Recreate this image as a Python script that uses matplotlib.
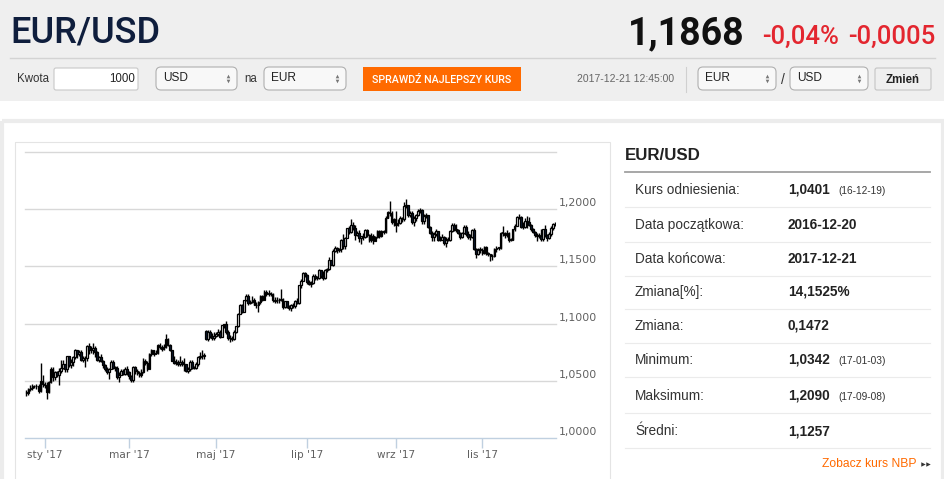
import numpy as np
import pandas as pd
import matplotlib
matplotlib.use('Agg')
from matplotlib import pyplot as plt
from matplotlib.patches import Rectangle, FancyBboxPatch
from matplotlib.transforms import offset_copy

plt.rcParams['font.family'] = ['Liberation Sans', 'DejaVu Sans']

# EUR/USD daily candles, 2016-12-20 .. 2017-12-21 (business days)
first_open = 1.0400
closes = [
    1.0392, 1.0425, 1.0437, 1.0452, 1.0455, 1.0452, 1.0410, 1.0495, 1.0470, 1.0460,
    1.0405, 1.0490, 1.0605, 1.0530, 1.0575, 1.0555, 1.0585, 1.0615, 1.0645, 1.0605,
    1.0715, 1.0635, 1.0660, 1.0705, 1.0765, 1.0735, 1.0750, 1.0680, 1.0695, 1.0695,
    1.0800, 1.0765, 1.0765, 1.0785, 1.0750, 1.0685, 1.0705, 1.0670, 1.0640, 1.0605,
    1.0575, 1.0605, 1.0665, 1.0615, 1.0615, 1.0535, 1.0555, 1.0585, 1.0560, 1.0605,
    1.0575, 1.0545, 1.0505, 1.0620, 1.0585, 1.0565, 1.0550, 1.0580, 1.0675, 1.0655,
    1.0605, 1.0735, 1.0765, 1.0735, 1.0745, 1.0810, 1.0795, 1.0780, 1.0795, 1.0865,
    1.0815, 1.0765, 1.0675, 1.0655, 1.0665, 1.0645, 1.0665, 1.0645, 1.0645, 1.0590,
    1.0605, 1.0665, 1.0615, 1.0615, 1.0645, 1.0705, 1.0715, 1.0715, 1.0725, 1.0865,
    1.0930, 1.0895, 1.0870, 1.0895, 1.0905, 1.0925, 1.0885, 1.0985, 1.0995, 1.0925,
    1.0875, 1.0870, 1.0865, 1.0930, 1.0975, 1.1085, 1.1165, 1.1105, 1.1205, 1.1245,
    1.1180, 1.1190, 1.1210, 1.1165, 1.1160, 1.1185, 1.1240, 1.1210, 1.1280, 1.1255,
    1.1270, 1.1255, 1.1210, 1.1195, 1.1205, 1.1210, 1.1215, 1.1145, 1.1195, 1.1145,
    1.1135, 1.1165, 1.1150, 1.1195, 1.1180, 1.1335, 1.1375, 1.1440, 1.1425, 1.1360,
    1.1350, 1.1355, 1.1420, 1.1400, 1.1400, 1.1465, 1.1415, 1.1395, 1.1470, 1.1475,
    1.1555, 1.1515, 1.1635, 1.1660, 1.1640, 1.1650, 1.1735, 1.1675, 1.1750, 1.1835,
    1.1800, 1.1860, 1.1835, 1.1775, 1.1790, 1.1750, 1.1765, 1.1760, 1.1820, 1.1775,
    1.1735, 1.1770, 1.1725, 1.1760, 1.1810, 1.1765, 1.1810, 1.1800, 1.1925, 1.1975,
    1.1970, 1.1885, 1.1910, 1.1860, 1.1880, 1.1920, 1.1915, 1.2025, 1.2035, 1.1950,
    1.1970, 1.1885, 1.1925, 1.1950, 1.1985, 1.1995, 1.1895, 1.1940, 1.1950, 1.1845,
    1.1795, 1.1755, 1.1785, 1.1810, 1.1735, 1.1735, 1.1760, 1.1705, 1.1735, 1.1735,
    1.1810, 1.1860, 1.1825, 1.1820, 1.1795, 1.1760, 1.1790, 1.1845, 1.1785, 1.1755,
    1.1760, 1.1815, 1.1650, 1.1610, 1.1645, 1.1645, 1.1620, 1.1670, 1.1610, 1.1610,
    1.1590, 1.1595, 1.1650, 1.1665, 1.1665, 1.1795, 1.1795, 1.1775, 1.1795, 1.1735,
    1.1735, 1.1825, 1.1855, 1.1930, 1.1935, 1.1845, 1.1845, 1.1900, 1.1890, 1.1860,
    1.1830, 1.1800, 1.1775, 1.1770, 1.1770, 1.1740, 1.1825, 1.1775, 1.1750, 1.1780,
    1.1840, 1.1875, 1.1868,
]
highs = [
    1.042, 1.044, 1.046, 1.047, 1.046, 1.047, 1.047, 1.0655, 1.055, 1.049,
    1.049, 1.050, 1.062, 1.062, 1.059, 1.059, 1.061, 1.068, 1.068, 1.065,
    1.072, 1.072, 1.069, 1.072, 1.078, 1.077, 1.077, 1.077, 1.072, 1.072,
    1.081, 1.083, 1.080, 1.083, 1.080, 1.076, 1.072, 1.073, 1.068, 1.065,
    1.062, 1.061, 1.068, 1.068, 1.063, 1.063, 1.058, 1.060, 1.060, 1.062,
    1.063, 1.059, 1.055, 1.063, 1.063, 1.060, 1.059, 1.060, 1.070, 1.069,
    1.067, 1.074, 1.078, 1.077, 1.077, 1.082, 1.083, 1.081, 1.082, 1.091,
    1.087, 1.082, 1.077, 1.072, 1.069, 1.068, 1.072, 1.068, 1.070, 1.065,
    1.062, 1.068, 1.068, 1.063, 1.066, 1.072, 1.075, 1.077, 1.074, 1.0945,
    1.094, 1.094, 1.092, 1.093, 1.093, 1.095, 1.094, 1.099, 1.100, 1.102,
    1.094, 1.090, 1.089, 1.094, 1.098, 1.109, 1.117, 1.117, 1.121, 1.126,
    1.126, 1.121, 1.124, 1.122, 1.119, 1.120, 1.125, 1.125, 1.129, 1.129,
    1.129, 1.128, 1.127, 1.123, 1.123, 1.122, 1.130, 1.122, 1.120, 1.120,
    1.116, 1.117, 1.118, 1.121, 1.122, 1.134, 1.139, 1.145, 1.145, 1.143,
    1.138, 1.137, 1.143, 1.143, 1.142, 1.148, 1.147, 1.146, 1.148, 1.149,
    1.158, 1.156, 1.165, 1.168, 1.167, 1.166, 1.174, 1.178, 1.176, 1.184,
    1.185, 1.191, 1.189, 1.186, 1.181, 1.182, 1.177, 1.179, 1.183, 1.183,
    1.178, 1.179, 1.178, 1.177, 1.182, 1.182, 1.182, 1.182, 1.194, 1.198,
    1.207, 1.198, 1.192, 1.198, 1.191, 1.194, 1.193, 1.206, 1.209, 1.203,
    1.198, 1.198, 1.194, 1.196, 1.200, 1.201, 1.200, 1.196, 1.197, 1.195,
    1.185, 1.181, 1.180, 1.183, 1.181, 1.177, 1.178, 1.177, 1.176, 1.176,
    1.182, 1.188, 1.188, 1.187, 1.183, 1.180, 1.180, 1.186, 1.186, 1.181,
    1.178, 1.183, 1.184, 1.166, 1.166, 1.167, 1.166, 1.168, 1.168, 1.163,
    1.161, 1.161, 1.166, 1.168, 1.167, 1.180, 1.185, 1.180, 1.182, 1.180,
    1.175, 1.183, 1.187, 1.194, 1.196, 1.194, 1.189, 1.192, 1.194, 1.193,
    1.187, 1.184, 1.181, 1.179, 1.179, 1.183, 1.183, 1.186, 1.178, 1.180,
    1.185, 1.188, 1.189,
]
lows = [
    1.037, 1.038, 1.041, 1.042, 1.044, 1.043, 1.039, 1.040, 1.045, 1.044,
    1.0342, 1.039, 1.048, 1.050, 1.051, 1.053, 1.046, 1.057, 1.060, 1.058,
    1.058, 1.062, 1.061, 1.063, 1.069, 1.070, 1.072, 1.067, 1.066, 1.062,
    1.067, 1.073, 1.074, 1.073, 1.071, 1.067, 1.066, 1.066, 1.061, 1.059,
    1.056, 1.052, 1.060, 1.060, 1.059, 1.052, 1.049, 1.055, 1.055, 1.055,
    1.055, 1.052, 1.049, 1.049, 1.056, 1.055, 1.053, 1.053, 1.057, 1.064,
    1.059, 1.060, 1.072, 1.072, 1.073, 1.073, 1.078, 1.076, 1.077, 1.079,
    1.080, 1.076, 1.067, 1.065, 1.064, 1.063, 1.063, 1.063, 1.059, 1.058,
    1.057, 1.059, 1.060, 1.060, 1.060, 1.063, 1.069, 1.069, 1.069, 1.0855,
    1.085, 1.087, 1.086, 1.086, 1.088, 1.089, 1.087, 1.088, 1.096, 1.091,
    1.086, 1.084, 1.085, 1.086, 1.092, 1.097, 1.108, 1.109, 1.110, 1.120,
    1.116, 1.117, 1.118, 1.116, 1.114, 1.110, 1.117, 1.120, 1.121, 1.124,
    1.124, 1.124, 1.119, 1.118, 1.118, 1.118, 1.120, 1.113, 1.114, 1.114,
    1.112, 1.111, 1.114, 1.114, 1.117, 1.117, 1.131, 1.137, 1.141, 1.135,
    1.134, 1.132, 1.135, 1.138, 1.138, 1.139, 1.140, 1.138, 1.139, 1.145,
    1.147, 1.151, 1.150, 1.163, 1.162, 1.163, 1.163, 1.165, 1.165, 1.175,
    1.178, 1.179, 1.182, 1.173, 1.177, 1.171, 1.170, 1.173, 1.175, 1.176,
    1.171, 1.171, 1.170, 1.172, 1.175, 1.175, 1.176, 1.178, 1.179, 1.192,
    1.194, 1.187, 1.185, 1.180, 1.185, 1.187, 1.189, 1.190, 1.201, 1.193,
    1.193, 1.187, 1.185, 1.190, 1.194, 1.197, 1.187, 1.187, 1.192, 1.184,
    1.178, 1.172, 1.172, 1.177, 1.172, 1.172, 1.173, 1.169, 1.167, 1.172,
    1.172, 1.180, 1.181, 1.180, 1.178, 1.174, 1.175, 1.178, 1.177, 1.174,
    1.173, 1.175, 1.164, 1.157, 1.160, 1.162, 1.160, 1.161, 1.160, 1.159,
    1.155, 1.156, 1.158, 1.163, 1.164, 1.165, 1.177, 1.175, 1.176, 1.171,
    1.172, 1.173, 1.181, 1.185, 1.191, 1.184, 1.183, 1.184, 1.184, 1.185,
    1.181, 1.179, 1.176, 1.172, 1.175, 1.172, 1.172, 1.176, 1.172, 1.174,
    1.177, 1.182, 1.185,
]
gap_opens = {89: 1.0935}  # poniedzialek 2017-04-24, luka po weekendzie

price_ticks = [1.00, 1.05, 1.10, 1.15, 1.20]
grid_levels = [1.05, 1.10, 1.15, 1.20, 1.25]
month_ticks = [1, 3, 5, 7, 9, 11]
month_names = ['sty', 'lut', 'mar', 'kwi', 'maj', 'cze',
               'lip', 'sie', 'wrz', 'paź', 'lis', 'gru']

stats_labels = ['Kurs odniesienia:', 'Data początkowa:', 'Data końcowa:', 'Zmiana[%]:',
                'Zmiana:', 'Minimum:', 'Maksimum:', 'Średni:']
stats_values = ['1,0401', '2016-12-20', '2017-12-21', '14,1525%',
                '0,1472', '1,0342', '1,2090', '1,1257']
stats_dates = ['(16-12-19)', '', '', '', '', '(17-01-03)', '(17-09-08)', '']

dates = pd.bdate_range('2016-12-20', '2017-12-21')
n = min(len(dates), len(closes), len(highs), len(lows))
opens = [first_open] + closes[:-1]
for k, v in gap_opens.items():
    opens[k] = v

W, H = 945, 479
fig = plt.figure(figsize=(W / 100, H / 100), dpi=100)
fig.patch.set_facecolor('white')

# page chrome, drawn in pixel coordinates
bg = fig.add_axes([0, 0, 1, 1])
bg.set_xlim(0, W)
bg.set_ylim(H, 0)
bg.axis('off')

bg.add_patch(Rectangle((0, 0), W, 101, fc='#efefef', ec='none'))
bg.plot([10, 935], [58, 58], color='#d3d3d3', lw=1)
bg.add_patch(Rectangle((2, 121), W - 4, 400, fill=False, ec='#ececec', lw=3))
bg.add_patch(Rectangle((15, 142), 595, 400, fill=False, ec='#e4e4e4', lw=0.8))

bg.text(10, 42, 'EUR/USD', fontsize=26, family='Roboto', fontweight='medium',
        color='#0f1e3d', va='baseline')
bg.text(745, 44, '1,1868', fontsize=27, family='Roboto', fontweight='bold',
        color='#111111', va='baseline', ha='right')
bg.text(762, 44, '-0,04%', fontsize=18.5, family='Roboto', fontweight='medium',
        color='#e3262f', va='baseline')
bg.text(935, 44, '-0,0005', fontsize=18.5, family='Roboto', fontweight='medium',
        color='#e3262f', va='baseline', ha='right')


def select_box(x0, x1, label):
    bg.add_patch(FancyBboxPatch((x0 + 3, 70), x1 - x0 - 6, 17,
                                boxstyle='round,pad=3,rounding_size=5',
                                fc='#f8f8f8', ec='#b0b0b0', lw=0.8))
    bg.text(x0 + 7, 78, label, fontsize=8.6, color='#222222', va='center')
    bg.plot([x1 - 9], [75.5], marker='^', ms=2.6, color='#777777', mew=0)
    bg.plot([x1 - 9], [81], marker='v', ms=2.6, color='#777777', mew=0)


# form row
bg.text(17, 79, 'Kwota', fontsize=8.3, color='#333333', va='center')
bg.add_patch(FancyBboxPatch((54, 68), 84, 22, boxstyle='round,pad=0,rounding_size=2',
                            fc='white', ec='#c8c8c8', lw=0.8))
bg.text(135, 79, '1000', fontsize=8.3, color='#222222', va='center', ha='right')
select_box(156, 237, 'USD')
bg.text(244, 79, 'na', fontsize=8.3, color='#333333', va='center')
select_box(264, 346, 'EUR')
bg.add_patch(Rectangle((363, 67), 158, 24, fc='#ff6a00', ec='none'))
bg.text(442, 79.5, 'SPRAWDŹ NAJLEPSZY KURS', fontsize=7.7, family='Roboto',
        fontweight='medium', color='white', va='center', ha='center')
bg.text(577, 79, '2017-12-21 12:45:00', fontsize=7.5, color='#666666', va='center')
bg.plot([686, 686], [67, 92], color='#d0d0d0', lw=0.8)
select_box(698, 776, 'EUR')
bg.text(783, 80, '/', fontsize=10, color='#333333', va='center', ha='center')
select_box(790, 868, 'USD')
bg.add_patch(FancyBboxPatch((875, 68), 56, 22, boxstyle='round,pad=0,rounding_size=2',
                            fc='#efefef', ec='#c4c4c4', lw=0.8))
bg.text(903, 79.5, 'Zmień', fontsize=8.3, fontweight='bold', color='#222222',
        va='center', ha='center')

# stats panel
bg.text(625, 155, 'EUR/USD', fontsize=12.2, fontweight='bold', color='#222222', va='center')
bg.plot([625, 930], [172, 172], color='#a0a0a0', lw=1.3)
row_y = [190, 225, 259, 292, 326, 360, 396, 431]
for i, (lab, val, dt) in enumerate(zip(stats_labels, stats_values, stats_dates)):
    y = row_y[i]
    bg.text(635, y, lab, fontsize=9.8, color='#333333', va='center')
    bg.text(788, y, val, fontsize=9.8, fontweight='bold', color='#222222', va='center')
    if dt:
        bg.text(838, y + 1, dt, fontsize=7.3, color='#333333', va='center')
    bg.plot([625, 930], [y + 17, y + 17], color='#ebebeb', lw=0.8)
bg.text(917, 464, 'Zobacz kurs NBP', fontsize=8.7, color='#ff6a00', va='center', ha='right')
bg.plot([923, 928], [464, 464], ls='none', marker='>', ms=3.2, color='#333333', mew=0)

# candlestick chart
ax = fig.add_axes([25 / W, 1 - 438 / H, 531 / W, 286 / H])
ax.patch.set_alpha(0)
ax.set_xlim(-0.7, n - 0.5)
ax.set_ylim(1.0, 1.25)
for v in grid_levels:
    ax.axhline(v, color='#d8d8d8', lw=1, zorder=0, clip_on=False)

x = np.arange(n)
o = np.array(opens[:n])
c = np.array(closes[:n])
hi = np.array(highs[:n])
lo = np.array(lows[:n])
up = c >= o
ax.vlines(x, lo, hi, color='black', lw=1.0, zorder=2)
body_lo = np.minimum(o, c)
body_h = np.maximum(np.abs(c - o), 0.0005)
ax.bar(x[up], body_h[up], bottom=body_lo[up], width=0.85, color='#f4f4f4',
       edgecolor='black', linewidth=0.9, zorder=3)
ax.bar(x[~up], body_h[~up], bottom=body_lo[~up], width=0.85, color='#0b1a33',
       edgecolor='black', linewidth=0.9, zorder=3)

for s in ['top', 'left', 'right']:
    ax.spines[s].set_visible(False)
ax.spines['bottom'].set_color('#c0d0e0')
ax.spines['bottom'].set_linewidth(1)

tick_pos = [int(np.argmax((dates[:n].year == 2017) & (dates[:n].month == m)))
            for m in month_ticks]
ax.set_xticks(tick_pos)
ax.set_xticklabels([f"{month_names[m - 1]} '17" for m in month_ticks],
                   family='DejaVu Sans', fontsize=7.6, color='#606060')
ax.tick_params(axis='x', length=7, width=1, color='#c0d0e0', pad=2)
ax.set_yticks([])

ylab = offset_copy(ax.get_yaxis_transform(), fig=fig, x=3, y=6, units='dots')
for v in price_ticks:
    ax.text(1.0, v, f'{v:.4f}'.replace('.', ','), transform=ylab, ha='left',
            va='center', family='DejaVu Sans', fontsize=7.8, color='#606060')

fig.savefig('out.png', dpi=100)
